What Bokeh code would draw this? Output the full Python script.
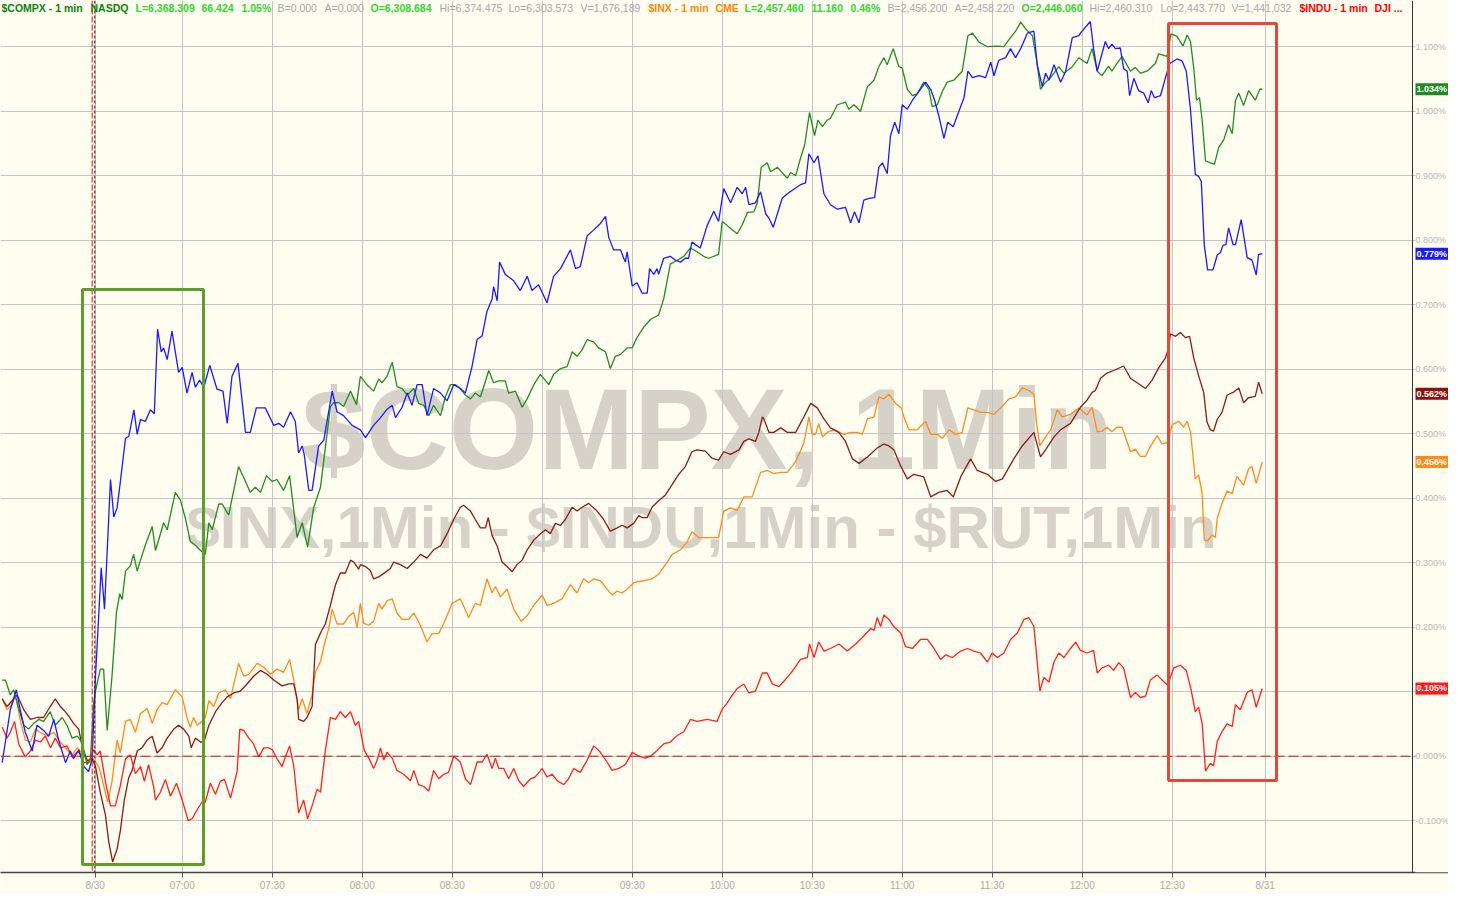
from bokeh.plotting import figure
from bokeh.models import FixedTicker, Label, Span, BoxAnnotation
from bokeh.embed import file_html
from bokeh.resources import INLINE

# ---------------- data: (minutes after 06:30 on 8/30, % change) ----------------
green = [(-30,0.118),(-28.9,0.118),(-27.3,0.095),(-26.2,0.103),(-24.5,0.074),(-22.8,0.048),(-21.2,0.042),(-19.5,0.051),(-17.8,0.057),(-16.2,0.054),(-14,0.069),(-12.3,0.048),(-10,0.060),(-8.4,0.048),(-6.7,0.028),(-5,0.031),(-3.4,0.022),(-1.7,-0.013),(-0.6,-0.004),(0.5,0.083),(1.1,0.101),(2.7,0.135),(3.8,0.135),(5,0.040),(6.6,0.124),(8.1,0.223),(9.2,0.252),(10,0.243),(11.1,0.287),(12.7,0.295),(13.8,0.313),(15,0.287),(16.1,0.304),(17.7,0.327),(20,0.356),(21.1,0.319),(22.2,0.336),(23.8,0.362),(25,0.351),(27.7,0.409),(29.4,0.397),(31.1,0.368),(32.7,0.333),(34.4,0.327),(36.1,0.319),(37.7,0.313),(38.9,0.362),(40,0.351),(42.2,0.391),(43.3,0.391),(45.5,0.374),(48.8,0.449),(51.1,0.426),(52.7,0.409),(54.4,0.417),(56.1,0.409),(58.1,0.435),(60,0.426),(61.6,0.429),(63.8,0.412),(65.8,0.435),(68.3,0.339),(70,0.362),(71.8,0.324),(73.8,0.385),(76.1,0.417),(77.7,0.478),(79.4,0.542),(80.5,0.548),(82.2,0.548),(83.8,0.542),(86.1,0.566),(88.1,0.545),
 (89.4,0.589),(91.6,0.576),(93.8,0.566),(95.5,0.585),(96.6,0.579),(98.3,0.589),(100,0.611),(101.6,0.573),(103.3,0.570),(105,0.560),(107.2,0.570),(108.8,0.547),(110.5,0.544),(112.2,0.528),(113.8,0.544),(116.1,0.528),(117.7,0.557),(119.4,0.576),(121.1,0.576),(122.7,0.570),(124.4,0.560),(126.1,0.554),(127.7,0.563),(129.4,0.557),(130.7,0.576),(132.2,0.598),(133.8,0.579),(135.5,0.582),(137.7,0.582),(138.8,0.563),(141.1,0.566),(143.3,0.541),(145,0.554),(147.2,0.576),(149.4,0.592),(152.2,0.576),(153.8,0.592),(156.1,0.601),(158.3,0.604),(160,0.627),(161.6,0.620),(163.3,0.630),(165,0.646),(167.2,0.642),(168.8,0.633),(171.1,0.627),(172.7,0.601),(174.4,0.620),(176.1,0.623),(178.3,0.633),(180,0.633),(181.6,0.649),(183.8,0.665),(186.1,0.677),(188.8,0.684),(190.5,0.709),(192.7,0.763),(195,0.769),(197.2,0.775),(199.4,0.788),(201.6,0.782),(203.8,0.775),(205.5,0.772),(208.8,0.778),(210,0.829),(211.6,0.823),
 (212.8,0.818),(215,0.810),(216.7,0.824),(218.4,0.843),(220.6,0.844),(221.7,0.858),(223,0.913),(225,0.920),(226.1,0.906),(228.4,0.913),(231.7,0.896),(232.8,0.905),(234.5,0.900),(236.1,0.927),(237.5,0.948),(239.1,0.998),(240.8,0.962),(241.9,0.986),(243.4,0.976),(245,0.986),(246.1,0.989),(248.4,1.010),(251.1,1.014),(252.2,1.003),(253.9,1.010),(256.1,1.000),(258.4,1.038),(260.6,1.048),(262.2,1.069),(263.9,1.083),(265,1.072),(267,1.097),(268.9,1.069),(270,1.067),(271.7,1.034),(273.4,1.024),(275,1.027),(277.2,1.045),(278.9,1.034),(280,1.007),(281.7,1.010),(283.4,1.031),(285,1.045),(287.2,1.048),(290,1.062),(291.9,1.117),(293.4,1.121),(295.6,1.107),(298.4,1.100),(301.7,1.101),(303.9,1.100),(306.1,1.114),(307.8,1.124),(309.5,1.138),(311.1,1.128),(313.4,1.117),(314.8,1.079),(316.1,1.034),(317.8,1.045),(319.5,1.052),(322.2,1.069),(323.9,1.059),(326.7,1.069),(328.9,1.083),
 (331.6,1.074),(333.3,1.097),(335,1.062),(336.6,1.055),(338.8,1.070),(339.9,1.062),(341.6,1.074),(343.3,1.085),(346.1,1.062),(347.7,1.068),(349.4,1.059),(351.6,1.062),(354.4,1.074),(355.5,1.089),(358.3,1.085),(359.6,1.120),(361.6,1.116),(363.6,1.101),(365,1.118),(366.1,1.108),(367.2,1.066),(368.1,1.017),(369.1,1.021),(370,0.986),(371.1,0.923),(372.7,0.920),(374.1,0.918),(375.5,0.944),(377.2,0.956),(378.8,0.979),(380,0.965),(381.1,1.017),(382.2,1.028),(383.8,1.009),(385.5,1.032),(387.7,1.017),(389.2,1.034),(390,1.034)]

blue = [(-30,-0.010),(-27.3,0.072),(-25.3,0.103),(-24,0.072),(-22.3,0.037),(-20,0.008),(-18.4,0.048),(-16.2,0.040),(-14.5,0.031),(-12.8,0.057),(-11.2,0.025),(-8.9,-0.010),(-7.3,0.008),(-6.2,-0.004),(-4.5,0.010),(-2.8,-0.016),(-1.2,-0.024),(0,-0.004),(1.1,0.124),(3,0.292),(4.1,0.228),(6.1,0.429),(7.2,0.371),(8.3,0.385),(9.4,0.426),(11.1,0.493),(12.2,0.496),(13.9,0.537),(15,0.499),(16.1,0.522),(17.7,0.519),(19.4,0.537),(20.7,0.531),(21.8,0.662),(23,0.627),(23.8,0.633),(25,0.615),(26.6,0.659),(28.8,0.595),(30,0.603),(31.6,0.563),(33.3,0.595),(34.4,0.572),(35.8,0.583),(37.2,0.572),(39.2,0.606),(41.6,0.569),(43.6,0.566),(45,0.516),(46.6,0.589),(48.6,0.609),(51.1,0.502),(52.7,0.502),(54.7,0.540),(57.7,0.540),(60.5,0.513),(62.2,0.516),(63.8,0.510),(66.1,0.534),(67.7,0.519),(68.8,0.470),(70,0.481),(70.7,0.467),(72.2,0.412),(73.3,0.412),(75.5,0.481),(77.2,0.490),(80,0.566),(81.6,0.534),(83.8,0.528),(86.6,0.513),
 (89.4,0.506),(91.1,0.494),(93.8,0.513),(96.1,0.525),(98.3,0.538),(100,0.544),(101.1,0.525),(103.3,0.541),(105,0.563),(106.6,0.544),(108.3,0.576),(110,0.576),(111.6,0.528),(113.8,0.570),(116.1,0.563),(118.3,0.551),(120.5,0.576),(122.7,0.570),(124.4,0.563),(126.6,0.604),(128.3,0.646),(130,0.652),(131.6,0.690),(133.3,0.709),(133.8,0.728),(135,0.706),(135.8,0.766),(137.7,0.747),(140.5,0.737),(142.7,0.722),(145,0.744),(146.6,0.722),(148.8,0.731),(151.6,0.703),(153.8,0.744),(156.1,0.756),(159.4,0.785),(161.1,0.756),(162.7,0.759),(165,0.807),(167.2,0.816),(169.4,0.826),(171.1,0.837),(172.2,0.804),(173.8,0.785),(176.1,0.785),(177.7,0.766),(178.3,0.782),(180,0.729),(181.6,0.734),(183.3,0.718),(185,0.718),(185.8,0.756),(187.2,0.747),(188.3,0.756),(188.8,0.747),(190.5,0.772),(192.7,0.775),(194.4,0.769),(196.1,0.766),(197.7,0.772),(198.8,0.772),(199.9,0.797),(202.7,0.788),(205,0.823),(207.2,0.845),(208.8,0.829),(210.5,0.880),
 (212.8,0.858),(215,0.882),(216.7,0.872),(217.8,0.882),(218.9,0.855),(221.1,0.858),(222.8,0.875),(224.5,0.841),(225.6,0.834),(227,0.820),(228.4,0.841),(230,0.865),(231.7,0.872),(233.9,0.879),(236.1,0.886),(237.8,0.889),(238.9,0.934),(240.6,0.920),(241.9,0.931),(243.9,0.872),(246.1,0.855),(248.4,0.848),(251.1,0.851),(252.8,0.827),(254.1,0.844),(255.6,0.827),(257.2,0.862),(258.9,0.865),(260.8,0.866),(262.2,0.913),(263.4,0.920),(265,0.903),(266.1,0.962),(267.5,0.983),(268.9,0.965),(270,1.010),(271.7,1.003),(273.4,1.017),(275,1.027),(276.7,1.038),(277.8,1.045),(279.5,1.034),(280.8,1.017),(282.2,0.993),(283.9,0.958),(285.2,0.983),(287,0.976),(288.9,1.000),(290.6,1.021),(291.9,1.062),(293.4,1.052),(295.6,1.055),(297.8,1.052),(299.5,1.076),(300.6,1.055),(302.2,1.079),(304.5,1.083),(306.1,1.097),(307.8,1.083),(309.5,1.097),(311.7,1.121),(313.9,1.124),(315,1.072),(316.7,1.038),(317.8,1.059),(318.9,1.048),(320.6,1.072),(322.8,1.045),(324.5,1.062),(326.7,1.114),(328.9,1.117),
 (329.4,1.121),(332.7,1.139),(333.8,1.097),(335,1.062),(337.7,1.108),(338.8,1.097),(339.9,1.104),(341.1,1.097),(342.7,1.098),(343.8,1.066),(345,1.062),(345.8,1.024),(347.2,1.051),(348.8,1.032),(350.5,1.028),(352,1.013),(353,1.032),(354.1,1.021),(356.1,1.024),(357.7,1.051),(359.2,1.074),(361.6,1.081),(363.3,1.078),(364.7,1.062),(366.1,1.002),(367.7,0.902),(368.8,0.899),(369.7,0.891),(370.7,0.792),(371.8,0.754),(373.6,0.754),(375,0.777),(376.1,0.781),(376.9,0.792),(377.9,0.793),(378.8,0.819),(380.3,0.793),(381.1,0.793),(383,0.832),(385,0.773),(386.6,0.769),(388,0.746),(388.8,0.778),(390,0.779)]

maroon = [(-30,0.089),(-28.4,0.077),(-26.7,0.086),(-25,0.095),(-22.8,0.072),(-20.6,0.057),(-18.4,0.060),(-16.2,0.060),(-14,0.077),(-12.3,0.089),(-10.6,0.077),(-8.4,0.066),(-6.2,0.051),(-4.5,0.042),(-3.4,0.016),(-1.7,-0.007),(0,-0.004),(1.1,-0.016),(2.7,-0.056),(4.4,-0.091),(5.5,-0.132),(6.8,-0.164),(8.3,-0.144),(9.4,-0.115),(10.7,-0.068),(12.2,-0.033),(13.3,-0.022),(15,0.008),(16.6,0.013),(18.3,0.025),(20,0.031),(21.6,0.005),(23.3,0.013),(25,0.028),(27.2,0.042),(28.8,0.048),(30.5,0.042),(32.2,0.031),(33,0.013),(34.4,0.028),(36.1,0.022),(37.2,0.022),(38.9,0.048),(41.1,0.069),(43.3,0.083),(45,0.092),(47.2,0.098),(49.4,0.101),(51.6,0.112),(53.8,0.124),(56.1,0.133),(58.3,0.127),(60.5,0.118),(63.3,0.109),(65.5,0.112),(67.2,0.112),(68.3,0.089),(68.8,0.057),(70.5,0.054),(71.6,0.060),(73.3,0.077),(74.4,0.173),(76.1,0.191),(77.7,0.205),(79.4,0.234),(81.1,0.266),(82.7,0.284),(84.4,0.284),(86.1,0.304),(87.2,0.301),(88.8,0.290),
 (89.4,0.297),(91.1,0.294),(92.7,0.288),(93.8,0.275),(95.5,0.278),(97.7,0.285),(99.4,0.291),(100.5,0.301),(102.7,0.297),(105,0.291),(107.2,0.301),(109.4,0.313),(111.6,0.307),(113.8,0.320),(116.1,0.326),(118.3,0.345),(120.5,0.367),(122.7,0.386),(123.8,0.389),(126.1,0.380),(127.7,0.367),(129.4,0.354),(131.1,0.354),(132,0.370),(133.3,0.342),(135,0.326),(136.6,0.301),(138.3,0.294),(140,0.286),(141.6,0.297),(143.3,0.304),(145,0.320),(147.2,0.335),(149.4,0.345),(151.1,0.351),(152.7,0.345),(154.4,0.361),(156.1,0.358),(157.7,0.367),(160,0.386),(161.6,0.380),(163.3,0.386),(165.5,0.392),(168.3,0.380),(170.5,0.367),(172.7,0.349),(175,0.354),(176.6,0.358),(178.3,0.354),(180.5,0.361),(182.2,0.373),(183.3,0.370),(185,0.370),(186.6,0.386),(188.8,0.396),(191.1,0.405),(193.3,0.421),(195.5,0.437),(197.7,0.449),(199.9,0.472),(201.6,0.475),(204.4,0.473),(206.6,0.462),(208.8,0.459),(210.5,0.472),
 (212.8,0.468),(215.6,0.475),(217.2,0.488),(218.9,0.492),(221.1,0.488),(222.2,0.502),(223.4,0.526),(223.9,0.523),(225.6,0.502),(227.2,0.502),(229.5,0.509),(231.7,0.502),(234.5,0.502),(237.2,0.526),(239.5,0.547),(241.7,0.540),(243.9,0.523),(246.1,0.509),(248.9,0.502),(251.1,0.488),(253.4,0.461),(255.6,0.454),(258.4,0.464),(261.7,0.478),(263.9,0.484),(265.6,0.481),(267.2,0.475),(269.5,0.450),(271.7,0.430),(273.9,0.437),(277.2,0.433),(279.5,0.402),(282.2,0.409),(285,0.412),(287,0.402),(289.5,0.433),(292.8,0.461),(295,0.443),(298.4,0.437),(301.1,0.426),(303.4,0.430),(307.2,0.461),(310,0.481),(313.9,0.502),(316.1,0.464),(317.8,0.475),(320.6,0.495),(322.8,0.506),(326.1,0.516),
 (329.4,0.541),(331.6,0.552),(333.3,0.564),(334.4,0.567),(336.1,0.586),(338.3,0.594),(340.5,0.598),(343.8,0.605),(346.1,0.586),(348.3,0.579),(351.1,0.570),(353.3,0.583),(355.5,0.602),(357.7,0.617),(358.8,0.632),(359.4,0.655),(361.1,0.651),(362.7,0.657),(364.4,0.649),(365.8,0.651),(367.2,0.617),(368.8,0.590),(370.5,0.564),(371.6,0.518),(372.7,0.506),(373.8,0.504),(375,0.522),(376.6,0.533),(378.3,0.560),(380.3,0.564),(382.2,0.571),(383.8,0.548),(385.5,0.556),(387.7,0.558),(388.8,0.580),(390,0.562)]

orange = [(-30,0.089),(-28.4,0.072),(-26.7,0.080),(-25.6,0.095),(-23.9,0.054),(-22.3,0.025),(-20.6,0.022),(-18.9,0.042),(-17.3,0.037),(-15,0.031),(-12.8,0.037),(-10.6,0.022),(-8.4,0.010),(-6.7,0.002),(-5,0.013),(-3.4,0.005),(-1.2,-0.010),(0.5,-0.004),(2.2,-0.016),(3.8,-0.045),(5.2,-0.071),(6.6,-0.039),(8.3,0.025),(9.4,0.005),(11.1,0.054),(12.7,0.057),(14.4,0.037),(16.1,0.066),(18.3,0.074),(20,0.051),(21.6,0.072),(23.3,0.083),(25,0.080),(27.7,0.103),(30,0.092),(31.6,0.060),(32.7,0.045),(33.8,0.060),(35,0.048),(36.6,0.054),(37.7,0.060),(38.9,0.086),(40.5,0.077),(42.2,0.098),(44.4,0.103),(46.1,0.089),(48.8,0.144),(50.5,0.124),(52.2,0.127),(55,0.144),(57.2,0.138),(59.4,0.127),(61.6,0.135),(63.8,0.130),(65.8,0.150),(67.2,0.118),(68.8,0.072),(70,0.089),(71.6,0.066),(73.3,0.095),(74.4,0.130),(76.1,0.147),(77.7,0.179),(78.8,0.197),(80,0.228),(81.6,0.205),(83.8,0.205),(85.5,0.217),(87.2,0.223),(88.3,0.199),
 (89.4,0.237),(90.5,0.206),(92.2,0.203),(93.8,0.209),(95.5,0.237),(96.6,0.228),(98.3,0.241),(100,0.244),(101.6,0.222),(103.3,0.212),(105.5,0.212),(107.2,0.222),(109.4,0.203),(111.6,0.177),(113.3,0.190),(115.5,0.190),(117.2,0.206),(120,0.237),(122.7,0.244),(125.5,0.215),(127.7,0.237),(129.4,0.234),(131.6,0.275),(133.3,0.253),(134.4,0.263),(136.1,0.247),(138.3,0.259),(140.5,0.228),(143,0.209),(145,0.218),(147.2,0.234),(150,0.250),(151.6,0.234),(153.8,0.237),(156.6,0.244),(159.4,0.266),(161.6,0.253),(163.8,0.275),(165.5,0.269),(167.2,0.275),(169.4,0.272),(171.6,0.259),(173.3,0.250),(175,0.256),(176.6,0.253),(178.3,0.259),(180.5,0.269),(183.8,0.272),(186.6,0.275),(188.8,0.282),(191.1,0.297),(193.3,0.313),(196.1,0.320),(198.3,0.332),(199.9,0.348),(202.2,0.339),(205,0.339),(208.8,0.339),(210.5,0.380),
 (212.8,0.385),(215,0.381),(217.2,0.402),(220,0.402),(222.8,0.440),(225,0.443),(227.2,0.438),(229.5,0.440),(231.7,0.440),(234.5,0.457),(237.2,0.485),(238.9,0.526),(240,0.499),(241.1,0.499),(242.2,0.516),(243.4,0.495),(245,0.502),(247.2,0.506),(250.6,0.499),(252.8,0.502),(255,0.502),(256.7,0.499),(258.4,0.523),(260.6,0.526),(262.2,0.557),(263.9,0.554),(265.6,0.561),(267.8,0.547),(269.7,0.540),(270.6,0.526),(272.2,0.506),(275,0.506),(277.8,0.519),(279.5,0.499),(281.7,0.499),(283.4,0.493),(285.6,0.506),(287.8,0.499),(290,0.502),(291.9,0.540),(293.9,0.537),(296.1,0.533),(298.4,0.533),(300.6,0.530),(302.8,0.540),(305.6,0.554),(307.8,0.557),(310,0.571),(312.2,0.567),(313.9,0.561),(314.8,0.516),(315.9,0.481),(317.8,0.495),(319.5,0.506),(321.7,0.537),(323.4,0.526),(326.1,0.530),(328.9,0.540),
 (331.6,0.529),(333.3,0.541),(335,0.503),(336.6,0.504),(338.3,0.510),(339.9,0.503),(341.6,0.510),(343.3,0.510),(344.4,0.495),(346.1,0.472),(347.7,0.476),(349.4,0.465),(351.1,0.465),(352.7,0.480),(355,0.497),(356.6,0.484),(358.5,0.487),(360,0.514),(362.2,0.519),(363.8,0.510),(365,0.519),(366.1,0.503),(367.7,0.430),(368.8,0.436),(370,0.407),(370.7,0.335),(371.8,0.334),(373.3,0.343),(374.4,0.339),(375,0.369),(376.6,0.392),(378.3,0.411),(380,0.407),(381.6,0.434),(383.8,0.420),(385.5,0.446),(386.6,0.449),(388,0.423),(390,0.456)]

red = [(-30,0.045),(-28.4,0.028),(-27.3,0.037),(-25.9,0.054),(-24.5,0.019),(-22.3,-0.001),(-20.6,0.008),(-18.9,0.025),(-17.3,0.022),(-15.6,0.031),(-13.9,0.013),(-12.3,0.028),(-10.6,0.013),(-8.4,0.016),(-6.7,-0.001),(-4.5,0.008),(-2.8,-0.010),(-1.2,-0.010),(0.5,0.010),(1.6,0.002),(2.7,0.008),(4.4,-0.039),(6.1,-0.077),(7.7,-0.077),(9.4,-0.045),(11.1,-0.004),(12.7,0.002),(14.4,-0.027),(16.1,-0.016),(17.4,-0.039),(18.8,-0.013),(20.5,-0.048),(21.1,-0.068),(22.7,-0.056),(24.4,-0.036),(26.1,-0.062),(28.1,-0.042),(30,-0.068),(32,-0.100),(33.3,-0.097),(35,-0.083),(36.6,-0.071),(37.7,-0.071),(39.4,-0.042),(41.1,-0.059),(42.7,-0.039),(44.1,-0.036),(46.1,-0.065),(48.3,-0.024),(49.2,0.042),(50.5,0.040),(52.2,0.028),(53.8,0.019),(55.5,-0.001),(57.2,0.013),(58.8,0.013),(60,0.010),(61.6,-0.004),(63.3,-0.016),(64.4,-0.001),(65.8,0.016),(67.2,-0.016),(68.8,-0.088),(70.5,-0.068),(71.8,-0.097),(73.3,-0.077),(75,-0.051),(76.1,-0.056),(77.7,0.008),(79.4,0.060),(81.1,0.057),(82.7,0.069),(84.4,0.060),(86.1,0.069),(87.7,0.048),(88.8,0.054),
 (90.7,0.009),(92.2,-0.003),(93.8,-0.019),(95,-0.006),(96.1,0.013),(97.2,-0.006),(98.3,0.006),(100,-0.003),(101.6,-0.022),(103.8,-0.028),(106.1,-0.038),(107.2,-0.022),(108.8,-0.044),(110.5,-0.047),(112.2,-0.054),(113.8,-0.022),(115.5,-0.035),(117.2,-0.028),(118.8,-0.025),(120.5,0.0),(122.7,-0.009),(124.4,-0.035),(126.1,-0.044),(128.3,-0.009),(130,-0.009),(131.6,0.003),(133.3,-0.019),(134.4,-0.003),(135.5,-0.019),(137.2,-0.019),(138.8,-0.035),(140.5,-0.019),(142.2,-0.038),(143.8,-0.047),(146.1,-0.035),(147.7,-0.032),(150,-0.019),(151.6,-0.032),(153.3,-0.028),(155,-0.038),(157.2,-0.044),(158.8,-0.035),(160.5,-0.019),(162.7,-0.025),(165,-0.006),(167.2,0.016),(169.4,0.006),(171.6,-0.009),(173.3,-0.022),(175.5,-0.019),(177.7,-0.013),(180,0.006),(182.2,0.0),(184.4,-0.003),(186.1,0.0),(188.3,0.009),(190.5,0.019),(192.7,0.022),(195,0.032),(197.2,0.038),(199.4,0.057),(201.6,0.054),(205,0.057),(208.3,0.054),(210,0.073),(211.6,0.082),
 (212.8,0.091),(215,0.105),(217.2,0.112),(218.9,0.098),(221.1,0.101),(223.4,0.129),(225,0.129),(226.7,0.112),(228.9,0.108),(231.1,0.119),(233.4,0.132),(236.1,0.150),(238.4,0.153),(239.1,0.174),(240.6,0.153),(242.2,0.177),(243.9,0.163),(246.1,0.167),(248.9,0.174),(251.7,0.163),(254.5,0.174),(256.7,0.184),(259.5,0.198),(260.6,0.195),(261.7,0.215),(262.8,0.201),(263.9,0.219),(265.6,0.212),(267.2,0.201),(269.5,0.191),(271.1,0.170),(273.4,0.167),(276.1,0.181),(278.4,0.181),(280.6,0.167),(282.8,0.150),(284.5,0.157),(286.7,0.153),(289.5,0.163),(291.7,0.167),(293.9,0.163),(296.1,0.160),(298.4,0.146),(300,0.160),(301.7,0.153),(303.9,0.160),(306.1,0.181),(308.4,0.191),(310.6,0.212),(312.2,0.215),(313.9,0.201),(315,0.146),(315.9,0.101),(317.2,0.122),(318.9,0.115),(320.6,0.146),(322.2,0.160),(323.9,0.153),(326.1,0.167),(327.8,0.177),
 (329.4,0.164),(331.6,0.160),(333.8,0.164),(335,0.129),(336.6,0.137),(338.8,0.141),(340.5,0.133),(342.2,0.145),(343.8,0.137),(346.1,0.091),(347.7,0.099),(349.4,0.091),(351.1,0.093),(352.7,0.118),(355,0.126),(356.6,0.118),(358.5,0.110),(360.5,0.137),(362.7,0.141),(364.7,0.133),(366.3,0.103),(367.7,0.069),(368.8,0.076),(370,0.050),(371.1,-0.023),(372.7,-0.011),(373.8,-0.015),(375,0.023),(376.6,0.038),(378.3,0.050),(380,0.046),(381.1,0.080),(382.7,0.072),(385,0.099),(386.6,0.103),(388,0.076),(390,0.105)]

# x ticks (minutes after 06:30) and labels
tick_minutes = [1, 30, 60, 90, 120, 150, 180, 210, 240, 270, 300, 330, 360, 391]
tick_labels = ["8/30", "07:00", "07:30", "08:00", "08:30", "09:00", "09:30", "10:00",
               "10:30", "11:00", "11:30", "12:00", "12:30", "8/31"]
y_ticks = [-0.1, 0.0, 0.1, 0.2, 0.3, 0.4, 0.5, 0.6, 0.7, 0.8, 0.9, 1.0, 1.1]

header = [
    ("$COMPX - 1 min", "#0c820c", "bold"), ("NASDQ", "#0c820c", "bold"),
    ("L=6,368.309", "#33d633", "bold"), ("66.424", "#33d633", "bold"), ("1.05%", "#33d633", "bold"),
    ("B=0.000", "#a8a8a8", "normal"), ("A=0.000", "#a8a8a8", "normal"),
    ("O=6,308.684", "#33d633", "bold"),
    ("Hi=6,374.475", "#a8a8a8", "normal"), ("Lo=6,303.573", "#a8a8a8", "normal"),
    ("V=1,676,189", "#a8a8a8", "normal"),
    ("$INX - 1 min", "#ff8a00", "bold"), ("CME", "#ff8a00", "bold"),
    ("L=2,457.460", "#33d633", "bold"), ("11.160", "#33d633", "bold"), ("0.46%", "#33d633", "bold"),
    ("B=2,456.200", "#a8a8a8", "normal"), ("A=2,458.220", "#a8a8a8", "normal"),
    ("O=2,446.060", "#33d633", "bold"),
    ("Hi=2,460.310", "#a8a8a8", "normal"), ("Lo=2,443.770", "#a8a8a8", "normal"),
    ("V=1,441,032", "#a8a8a8", "normal"),
    ("$INDU - 1 min", "#ff0000", "bold"), ("DJI ...", "#ff0000", "bold"),
]
header_px = [1, 90, 135, 201, 241, 277, 324, 370, 439, 508, 580, 648, 715, 744, 811, 850,
             887, 954, 1021, 1089, 1160, 1231, 1299, 1374]

series = [
    (orange, "#ff8c1a", "#ff8c1a"),
    (maroon, "#8b1a1a", "#8b1111"),
    (red, "#ff2020", "#ff1a1a"),
    (green, "#228b22", "#1f8a1f"),
    (blue, "#1a1aff", "#1a1aff"),
]

# ---------------- layout helpers (reference pixel -> data), layout only ----------------
def px_x(px):
    return (px - 91.7) / 3.0

def px_y(py):
    return (755.7 - py) / 645.0

BG = "#fffcf0"
FONT = "Liberation Sans"

p = figure(frame_width=1448, frame_height=872,
           x_range=(px_x(0), px_x(1448)), y_range=(px_y(872), px_y(0)),
           y_axis_location=None, output_backend="svg", toolbar_location=None,
           min_border_left=0, min_border_top=0, min_border_right=0, min_border_bottom=20,
           background_fill_color=BG, border_fill_color=BG, outline_line_color=None)

# watermark (under the grid)
p.add_layout(Label(x=px_x(707), y=px_y(428), text="$COMPX, 1Min", text_align="center",
                   text_baseline="alphabetic", text_font=FONT, text_font_size="115px",
                   text_font_style="bold", text_color="#d6d2c8", level="image"))
p.add_layout(Label(x=px_x(701), y=px_y(527), text="$INX,1Min - $INDU,1Min - $RUT,1Min",
                   text_align="center", text_baseline="alphabetic", text_font=FONT,
                   text_font_size="60px", text_font_style="bold", text_color="#d6d2c8",
                   level="image"))

# x axis & grid
p.xaxis.ticker = FixedTicker(ticks=tick_minutes)
p.xaxis.major_label_overrides = {t: l for t, l in zip(tick_minutes, tick_labels)}
p.xaxis.minor_tick_line_color = None
p.xaxis.major_tick_in = 0
p.xaxis.major_tick_out = 5
p.xaxis.major_tick_line_color = "#555555"
p.xaxis.axis_line_color = "#444444"
p.xaxis.axis_line_width = 1.5
p.xaxis.major_label_standoff = 2
p.xaxis.major_label_text_font = FONT
p.xaxis.major_label_text_font_size = "10px"
p.xaxis.major_label_text_color = "#ababab"

p.xgrid.ticker = FixedTicker(ticks=tick_minutes)
p.ygrid.ticker = FixedTicker(ticks=y_ticks)
p.grid.grid_line_color = "#c4c4c4"
p.grid.grid_line_width = 1

# zero line and session start markers
p.add_layout(Span(location=0, dimension="width", line_color="#d01010", line_dash="10 4",
                  line_width=1))
p.add_layout(Span(location=px_x(91.7), dimension="height", line_color="#ff0000",
                  line_dash="6 2", line_width=1))
p.add_layout(Span(location=px_x(94.3), dimension="height", line_color="#222222",
                  line_dash="3 2", line_width=1))

# series
for data, color, _ in series:
    xs = [t for t, _ in data]
    ys = [v for _, v in data]
    p.line(xs, ys, line_color=color, line_width=1.3)

# right-hand value scale: blank panel right of the axis, axis line, tick labels
p.add_layout(BoxAnnotation(left=px_x(1415), fill_color=BG, fill_alpha=1, line_alpha=0,
                           level="annotation"))
p.add_layout(Span(location=px_x(1412), dimension="height", line_color="#333333",
                  line_width=1, level="annotation"))
for v in y_ticks:
    p.add_layout(Label(x=px_x(1415), y=v, text=f"{v:.3f}%", text_baseline="middle",
                       text_font=FONT, text_font_size="9px", text_color="#b8b8b8",
                       level="annotation"))

# highlight boxes
p.add_layout(BoxAnnotation(left=px_x(82), right=px_x(203), top=px_y(289), bottom=px_y(864),
                           fill_alpha=0, line_color="#5c9e2c", line_alpha=1, line_width=3,
                           level="overlay"))
p.add_layout(BoxAnnotation(left=px_x(1168), right=px_x(1276), top=px_y(23), bottom=px_y(780),
                           fill_alpha=0, line_color="#e8453d", line_alpha=1, line_width=3,
                           level="overlay"))

# last-value tags on the right scale
for data, _, tag in series:
    last = data[-1][1]
    p.add_layout(Label(x=px_x(1415), y=last, text=f"{last:.3f}%", text_baseline="middle",
                       text_font=FONT, text_font_size="9px", text_font_style="bold",
                       text_color="white", background_fill_color=tag, background_fill_alpha=1,
                       padding=1, level="overlay"))

# header line
for (txt, col, style), hx in zip(header, header_px):
    p.add_layout(Label(x=px_x(hx), y=px_y(7), text=txt, text_baseline="middle",
                       text_font=FONT, text_font_size="10.5px", text_font_style=style,
                       text_color=col, level="overlay"))

open("out.html", "w").write(file_html(p, INLINE))
